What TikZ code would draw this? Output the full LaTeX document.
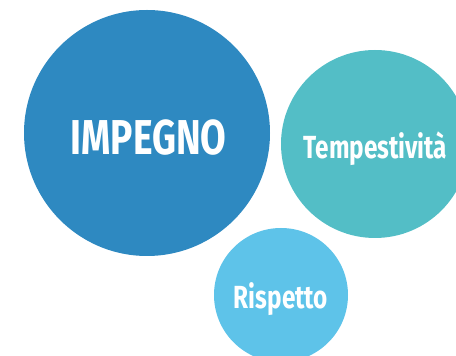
\documentclass[tikz,border=0pt]{standalone}
\usepackage{fontspec}
\setmainfont{Fira Sans}[FakeStretch=0.76]
\definecolor{cbig}{RGB}{46,137,193}
\definecolor{cteal}{RGB}{83,190,198}
\definecolor{clight}{RGB}{94,195,233}
\begin{document}
\begin{tikzpicture}[x=1pt,y=1pt,
  bubble/.style={circle,inner sep=0pt,draw=none},
  lbl/.style={text=white,font=\bfseries,anchor=base,inner sep=0pt}]
\useasboundingbox (0,0) rectangle (456,356);
\clip (0,0) rectangle (456,356);
\node[bubble,fill=cbig,minimum size=246pt] (impegno) at (147,223) {};
\node[bubble,fill=cteal,minimum size=188pt] (tempest) at (375,212) {};
\node[bubble,fill=clight,minimum size=134pt] (rispetto) at (281,61) {};
\node[lbl,font=\bfseries\fontsize{49}{49}\selectfont] (timp) at (148.5,201) {IMPEGNO};
\node[lbl,font=\bfseries\fontsize{32}{32}\selectfont] (ttem) at (375.5,197) {Tempestività};
\node[lbl,font=\bfseries\fontsize{32}{32}\selectfont] (tris) at (281,47) {Rispetto};
\end{tikzpicture}
\end{document}
